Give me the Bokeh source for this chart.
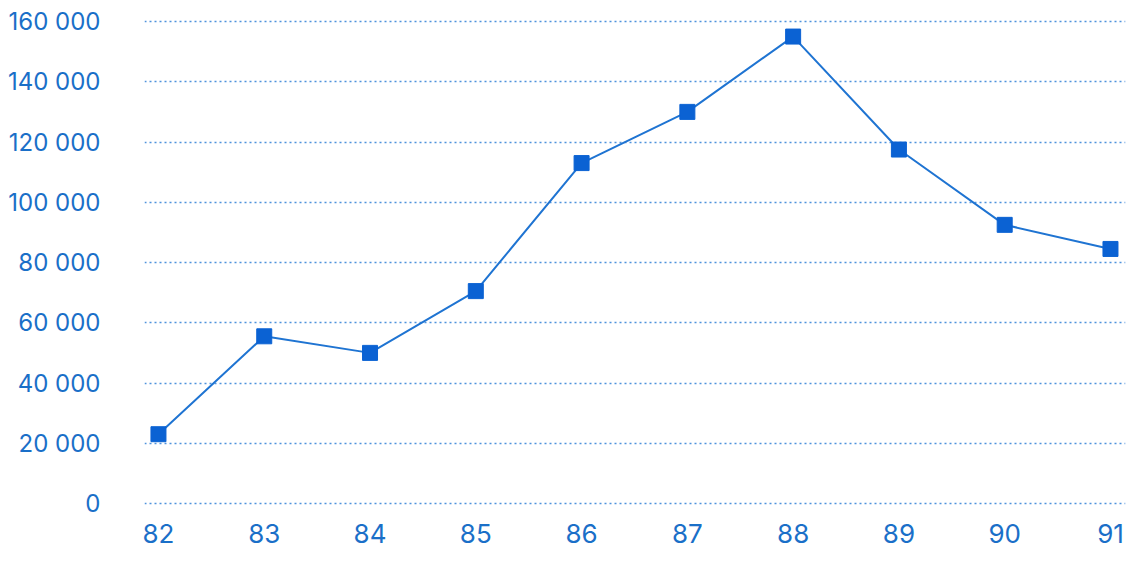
from bokeh.plotting import figure
from bokeh.models import FixedTicker, Range1d
from bokeh.embed import file_html
from bokeh.resources import INLINE

years = [82, 83, 84, 85, 86, 87, 88, 89, 90, 91]
values = [23000, 55500, 50000, 70500, 113000, 130000, 155000, 117500, 92500, 84500]
y_ticks = [0, 20000, 40000, 60000, 80000, 100000, 120000, 140000, 160000]
y_tick_labels = ["0", "20 000", "40 000", "60 000", "80 000", "100 000", "120 000", "140 000", "160 000"]
x_tick_labels = [str(y) for y in years]

LINE = "#1f74d2"
MARK = "#0b62d3"
TEXT = "#1a6fc8"

p = figure(width=1131, height=549, output_backend="svg", toolbar_location=None,
           x_range=Range1d(81.868, 91.142), y_range=Range1d(-664, 162988),
           min_border_left=144, min_border_right=6, min_border_top=12, min_border_bottom=44)
p.outline_line_color = None
p.background_fill_color = "white"

p.line(years, values, line_color=LINE, line_width=2)
p.scatter(years, values, marker="square", size=15, fill_color=MARK, line_color=MARK)

p.yaxis.ticker = FixedTicker(ticks=y_ticks)
p.yaxis.major_label_overrides = dict(zip(y_ticks, y_tick_labels))
p.xaxis.ticker = FixedTicker(ticks=years)
p.xaxis.major_label_overrides = dict(zip(years, x_tick_labels))

for ax in (p.xaxis, p.yaxis):
    ax.axis_line_color = None
    ax.major_tick_line_color = None
    ax.minor_tick_line_color = None
    ax.major_label_text_color = TEXT
    ax.major_label_text_font = "Inter"
p.yaxis.major_label_text_font_size = "24px"
p.xaxis.major_label_text_font_size = "26px"
p.yaxis.major_label_standoff = 38
p.xaxis.major_label_standoff = 12

p.xgrid.grid_line_color = None
p.ygrid.grid_line_color = "#4f93dc"
p.ygrid.grid_line_dash = "2 3"
p.ygrid.grid_line_width = 1.3

open("out.html", "w").write(file_html(p, INLINE))
